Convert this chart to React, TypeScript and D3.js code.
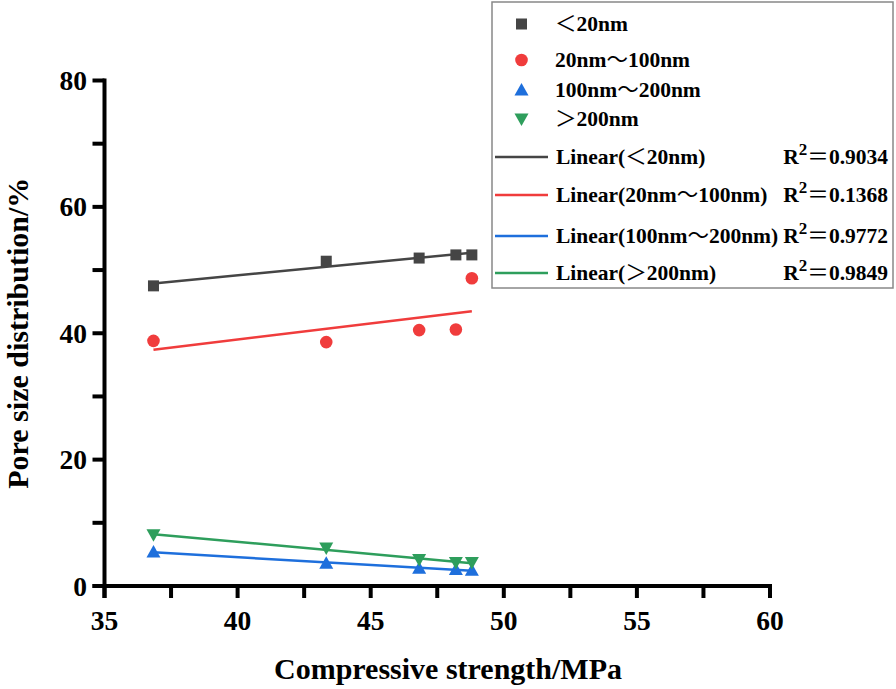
import React from "react";
import * as d3 from "d3";

const strength = [36.84, 43.33, 46.82, 48.2, 48.8];
const lt20 = [47.5, 51.4, 51.9, 52.4, 52.4];
const r20to100 = [38.8, 38.6, 40.5, 40.6, 48.7];
const r100to200 = [5.4, 3.6, 2.8, 2.6, 2.5];
const gt200 = [8.1, 6.0, 4.2, 3.7, 3.7];

// label pieces: [prefix, fullwidth symbol, suffix]
const seriesNames: [string, string, string][] = [["", "＜", "20nm"], ["20nm", "～", "100nm"], ["100nm", "～", "200nm"], ["", "＞", "200nm"]];
const fitNames: [string, string, string][] = [["Linear(", "＜", "20nm)"], ["Linear(20nm", "～", "100nm)"], ["Linear(100nm", "～", "200nm)"], ["Linear(", "＞", "200nm)"]];
const r2Labels = ["0.9034", "0.1368", "0.9772", "0.9849"];
const xTicks = [35, 40, 45, 50, 55, 60];
const xMinor = [37.5, 42.5, 47.5, 52.5, 57.5];
const yTicks = [0, 20, 40, 60, 80];
const yMinor = [10, 30, 50, 70];

const colors = ["#454545", "#F03C3C", "#1E6FDC", "#2E9E5C"];
const symbols = ["square", "circle", "up", "down"];

function fit(xs: number[], ys: number[]) {
  const mx = d3.mean(xs)!;
  const my = d3.mean(ys)!;
  let sxy = 0, sxx = 0;
  xs.forEach((x, i) => { sxy += (x - mx) * (ys[i] - my); sxx += (x - mx) * (x - mx); });
  const b = sxy / sxx;
  const a = my - b * mx;
  return (x: number) => a + b * x;
}

function Marker({ type, cx, cy, color }: { type: string; cx: number; cy: number; color: string }) {
  if (type === "square") return <rect x={cx - 5.5} y={cy - 5.5} width={11} height={11} fill={color} />;
  if (type === "circle") return <circle cx={cx} cy={cy} r={6.3} fill={color} />;
  if (type === "up") return <path d={`M${cx},${cy - 7} L${cx + 7},${cy + 5.5} L${cx - 7},${cy + 5.5} Z`} fill={color} />;
  return <path d={`M${cx},${cy + 7} L${cx + 7},${cy - 5.5} L${cx - 7},${cy - 5.5} Z`} fill={color} />;
}

const cjk = "'Noto Sans CJK SC', sans-serif";

function Label({ parts }: { parts: [string, string, string] }) {
  return (
    <>
      {parts[0]}
      <tspan fontFamily={cjk} fontWeight="normal">{parts[1]}</tspan>
      {parts[2]}
    </>
  );
}

export default function App() {
  const x = d3.scaleLinear().domain([35, 60]).range([104.5, 770]);
  const y = d3.scaleLinear().domain([0, 80]).range([586, 80.5]);
  const data = [lt20, r20to100, r100to200, gt200];
  const xMin = d3.min(strength)!;
  const xMax = d3.max(strength)!;
  const font = "'Liberation Serif', 'Times New Roman', serif";
  const tickLen = 12;
  const axisW = 4;
  const line = d3.line<[number, number]>().x(d => x(d[0])).y(d => y(d[1]));

  const legendRows = [24, 60, 90, 119];
  const fitRows = [157, 195, 236, 273];
  const lfs = 21.5;

  return (
    <svg width={896} height={689} style={{ position: "absolute", left: 0, top: 0, background: "#fff" }} fontFamily={font}>
      <rect x={0} y={0} width={896} height={689} fill="#fff" />
      {data.map((ys, i) => {
        const f = fit(strength, ys);
        return <path key={"f" + i} d={line([[xMin, f(xMin)], [xMax, f(xMax)]])!} stroke={colors[i]} strokeWidth={2.5} fill="none" />;
      })}
      {data.map((ys, i) => ys.map((v, j) => (
        <Marker key={i + "-" + j} type={symbols[i]} cx={x(strength[j])} cy={y(v)} color={colors[i]} />
      )))}
      <line x1={x(35)} x2={x(35)} y1={y(80) - 2} y2={y(0) + tickLen} stroke="#000" strokeWidth={axisW} />
      <line x1={x(35) - tickLen} x2={x(60) + 2} y1={y(0)} y2={y(0)} stroke="#000" strokeWidth={axisW} />
      {[...xTicks, ...xMinor].map(t => (
        <line key={"xt" + t} x1={x(t)} x2={x(t)} y1={y(0)} y2={y(0) + tickLen} stroke="#000" strokeWidth={axisW} />
      ))}
      {[...yTicks, ...yMinor].map(t => (
        <line key={"yt" + t} x1={x(35) - tickLen} x2={x(35)} y1={y(t)} y2={y(t)} stroke="#000" strokeWidth={axisW} />
      ))}
      {xTicks.map(t => (
        <text key={"xl" + t} x={x(t)} y={630} textAnchor="middle" fontSize={27.5} fontWeight="bold">{t}</text>
      ))}
      {yTicks.map(t => (
        <text key={"yl" + t} x={87} y={y(t) + 9.5} textAnchor="end" fontSize={27.5} fontWeight="bold">{t}</text>
      ))}
      <text x={448} y={679} textAnchor="middle" fontSize={30} fontWeight="bold">Compressive strength/MPa</text>
      <text transform={`translate(28,${(y(0) + y(80)) / 2}) rotate(-90)`} textAnchor="middle" fontSize={30} fontWeight="bold">Pore size distribution/%</text>
      <rect x={492} y={2} width={401} height={286} fill="#fff" stroke="#888" strokeWidth={1.5} />
      {seriesNames.map((n, i) => (
        <g key={"lg" + i}>
          <Marker type={symbols[i]} cx={521.5} cy={legendRows[i]} color={colors[i]} />
          <text x={555} y={legendRows[i] + 7} fontSize={lfs} fontWeight="bold"><Label parts={n} /></text>
        </g>
      ))}
      {fitNames.map((n, i) => (
        <g key={"lf" + i}>
          <line x1={495} x2={548} y1={fitRows[i]} y2={fitRows[i]} stroke={colors[i]} strokeWidth={2.5} />
          <text x={556} y={fitRows[i] + 7} fontSize={lfs} fontWeight="bold"><Label parts={n} /></text>
          <text x={888} y={fitRows[i] + 7} textAnchor="end" fontSize={lfs} fontWeight="bold">
            R<tspan dy={-9} fontSize={17}>2</tspan><tspan dy={9} fontFamily={cjk} fontWeight="normal">＝</tspan>{r2Labels[i]}
          </text>
        </g>
      ))}
    </svg>
  );
}
